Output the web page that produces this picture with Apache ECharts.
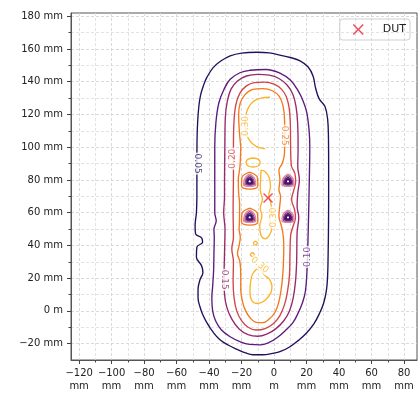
<!DOCTYPE html>
<html><head><meta charset="utf-8">
<script src="https://cdn.jsdelivr.net/npm/echarts@6/dist/echarts.min.js"></script>
<style>html,body{margin:0;padding:0;background:#fff}#c{width:420px;height:396px}</style>
</head><body><div id="c"></div>
<script>
// ---- tick values (mm) ----
const xTicks = [-120,-100,-80,-60,-40,-20,0,20,40,60,80];
const yTicks = [-20,0,20,40,60,80,100,120,140,160,180];

// ---- contour levels ----
const levels = ['0.05','0.10','0.15','0.20','0.25','0.30'];

// ---- contour polylines (mm) ----
const contour005 = [
  [[-47.5,70],[-47.5,90],[-47.4,105],[-47,116],[-46.3,125],[-45.2,132],[-43.5,137.5],[-41.3,142.8],[-37.6,148.5],[-33,152.5],[-27,155.8],[-20,157.5],[-10.5,158],[-3,157.6],[3.6,156.3],[10,154.8],[16,152.8],[21,149],[24,143.5],[25.6,136],[27.8,129.5],[31.3,125],[33,117],[33.5,105],[33.6,90],[33.6,70],[33.5,50],[33.3,35],[33,22],[32.3,13],[30.6,5],[28,-1.5],[24.5,-8],[20,-13.5],[15,-18],[9.8,-21.9],[4,-24.8],[-1,-26],[-7,-26.8],[-13,-26.8],[-18,-25.5],[-22.8,-23.5],[-28,-21],[-33.3,-17.6],[-37.5,-13],[-41.3,-7.3],[-44,-2],[-45.6,2.5],[-46.8,8],[-46.8,13],[-45.6,19],[-43.8,23.5],[-44.6,27.5],[-47.8,33],[-47.5,39],[-44,42],[-44.5,44.5],[-48.3,47],[-48.6,52],[-47.8,60],[-47.5,70]]
];
const contour010 = [
  [[-36.5,80],[-36.5,100],[-35.8,115],[-34,127],[-31,135],[-27,141.5],[-21,145.5],[-14.8,147],[-5,147.5],[3.6,145.3],[10,141],[14.5,135],[18,128],[20.2,121],[21.6,110],[22,100],[21.7,80],[21.3,60],[20.8,40],[20.3,25],[19.3,12],[17.5,5],[14.5,-2],[11.5,-7.3],[7,-12],[2,-16.3],[-3,-19.3],[-8.5,-20.8],[-15,-20.5],[-21,-18.8],[-27,-15.8],[-32.5,-11.5],[-36,-6],[-37.8,0],[-38.3,8],[-37.8,15],[-37.2,25],[-37,35],[-36.8,45],[-37,50],[-35.6,55],[-36.5,60],[-36.5,80]]
];
const contour015 = [
  [[-30.5,80],[-30.3,100],[-30,118],[-28.8,128],[-26.5,135.5],[-22.5,140.5],[-17,143.5],[-10,144.5],[-3,144],[3,142],[8,138],[11.5,132.5],[13.5,125],[14.5,115],[14.8,100],[14.6,88],[15.6,80],[14.6,72],[14.2,64],[15.2,57],[14.2,48],[13.9,30],[13.2,18],[11.8,8],[9.5,0],[6,-6],[1,-11],[-4.5,-14.2],[-10,-15.5],[-16,-14.5],[-21.5,-11],[-26,-5],[-29,2],[-30.5,10],[-30.8,20],[-30.5,35],[-30.2,50],[-31,60],[-30.5,70],[-30.5,80]]
];
const contour020 = [
  [[-25,80],[-25,100],[-24.7,115],[-23.5,126],[-21,133],[-17,137.5],[-12,139.5],[-6,139.8],[0,138.5],[4.5,135.5],[7.5,131],[9.3,124],[10,115],[10.2,100],[10.6,89],[12.8,84],[13.3,79],[12.2,74],[10.8,68],[12.6,62],[13.2,57],[11.8,52],[10.2,46],[9.8,35],[9.5,22],[8.3,12],[6.5,4],[3.5,-3],[-0.5,-7.8],[-5.5,-10.8],[-11,-11.7],[-16,-10],[-20,-6],[-23,0],[-24.6,8],[-25.2,18],[-25,30],[-26,38],[-25,45],[-25.2,60],[-25,80]]
];
const contour025 = [
  [[-20.5,100],[-21.5,112],[-21.8,120],[-20.8,127],[-18,132],[-13,135.3],[-7,135.8],[-1,134.5],[3.2,131],[5.6,125],[6.5,116],[6.6,106],[6.4,96],[5,90],[3,86],[3.6,80],[3,74],[4,70],[3.5,64],[3,58],[4.5,52],[5.5,47],[6,40],[5.8,30],[5.2,20],[4.2,12],[2.8,5],[0.5,-1],[-3,-5],[-7,-7.2],[-11,-7],[-14.5,-4.5],[-17.5,0],[-19.5,6],[-20.5,13],[-20.5,22],[-21,30],[-22.5,35],[-21.5,40],[-20.8,45],[-21.5,50],[-21.3,55],[-21.2,65],[-21.8,72],[-22,80],[-21,88],[-20.5,100]],
  [[-15,84.8],[-10.2,81.4],[-10,76.4],[-15,74.4],[-20,76.4],[-19.8,81.4],[-15,84.8]],
  [[-15,62.8],[-10.2,59.4],[-10,54.4],[-15,52.4],[-20,54.4],[-19.8,59.4],[-15,62.8]]
];
const contour030 = [
  [[-2.5,130.5],[-8,130],[-12,128.5],[-15,125.5],[-17,121],[-17.8,115],[-17.2,109],[-15,104],[-11,100.5],[-5.5,99]],
  [[-12.9,93.4],[-9.6,92.6],[-8.6,90.7],[-9.6,88.7],[-12.9,87.9],[-16.2,88.7],[-17.2,90.7],[-16.2,92.6],[-12.9,93.4]],
  [[-8,86],[-5.5,85],[-3,81.5],[-2.2,76],[-3.2,71],[-2,66],[-1.5,61],[-2.5,55],[-1.5,50],[-3,46],[-5.5,44],[-8,46],[-8.8,52],[-7.5,58],[-8.5,63],[-7.2,68],[-8.5,74],[-8.3,80],[-8,86]],
  [[-11.5,42.7],[-10.3,41.5],[-11.5,40.3],[-12.7,41.5],[-11.5,42.7]],
  [[-13.3,35.8],[-12,34.5],[-13.3,33.2],[-14.6,34.5],[-13.3,35.8]],
  [[-8.6,27],[-13,23],[-14.5,17],[-14.8,11],[-13.5,6],[-10,4.5],[-5.5,6.5],[-2,11],[-1.3,15],[-3,19.5],[-6,22],[-8.6,27]]
];
// four low-field spots (rings of levels 0.05 .. 0.20)
const spot005 = [
  [[-15,80.7],[-13.7,79.45],[-13.6,78.2],[-15,77.9],[-16.4,78.2],[-16.3,79.45],[-15,80.7]],
  [[8.6,80.7],[9.9,79.45],[10,78.2],[8.6,77.9],[7.2,78.2],[7.3,79.45],[8.6,80.7]],
  [[-15,58.7],[-13.7,57.45],[-13.6,56.2],[-15,55.9],[-16.4,56.2],[-16.3,57.45],[-15,58.7]],
  [[8.6,58.7],[9.9,57.45],[10,56.2],[8.6,55.9],[7.2,56.2],[7.3,57.45],[8.6,58.7]]
];
const spot010 = [
  [[-15,81.6],[-13,79.7],[-12.8,77.7],[-15,77.3],[-17.2,77.7],[-17,79.7],[-15,81.6]],
  [[8.6,81.6],[10.6,79.7],[10.8,77.7],[8.6,77.3],[6.4,77.7],[6.6,79.7],[8.6,81.6]],
  [[-15,59.6],[-13,57.7],[-12.8,55.7],[-15,55.3],[-17.2,55.7],[-17,57.7],[-15,59.6]],
  [[8.6,59.6],[10.6,57.7],[10.8,55.7],[8.6,55.3],[6.4,55.7],[6.6,57.7],[8.6,59.6]]
];
const spot015 = [
  [[-15,82.6],[-12.4,79.9],[-12.1,77.3],[-15,76.7],[-17.9,77.3],[-17.6,79.9],[-15,82.6]],
  [[8.6,82.6],[11.2,79.9],[11.5,77.3],[8.6,76.7],[5.7,77.3],[6,79.9],[8.6,82.6]],
  [[-15,60.6],[-12.4,57.9],[-12.1,55.3],[-15,54.7],[-17.9,55.3],[-17.6,57.9],[-15,60.6]],
  [[8.6,60.6],[11.2,57.9],[11.5,55.3],[8.6,54.7],[5.7,55.3],[6,57.9],[8.6,60.6]]
];
const spot020 = [
  [[-15,83.5],[-11.7,80.2],[-11.3,76.9],[-15,76.1],[-18.7,76.9],[-18.3,80.2],[-15,83.5]],
  [[8.6,83.5],[11.9,80.2],[12.3,76.9],[8.6,76.1],[4.9,76.9],[5.3,80.2],[8.6,83.5]],
  [[-15,61.5],[-11.7,58.2],[-11.3,54.9],[-15,54.1],[-18.7,54.9],[-18.3,58.2],[-15,61.5]],
  [[8.6,61.5],[11.9,58.2],[12.3,54.9],[8.6,54.1],[4.9,54.9],[5.3,58.2],[8.6,61.5]]
];

// ---- contour labels: [x, y, text] ----
const labelPoints = [[-47.4,90,'0.05'],[20.6,33,'0.10'],[-30.6,19,'0.15'],[-25.2,93,'0.20'],[6.5,107,'0.25'],[-17.6,113,'0.30'],[-0.5,57,'0.30'],[-8.8,28,'0.30']];
const labelRotations = [-90,90,-90,90,-90,90,90,-40];
const labelLevelIndex = [0,1,2,3,4,5,5,5];

// ---- DUT marker ----
const dutPoint = [[-3.7,69]];

// ---- styles ----
const levelColors = ['#24105a','#5c1a7c','#962a6a','#cf4548','#f27a1c','#f9b52c'];
const spotColors = ['#3a1466','#5c1a7c','#9a4a8a','#dc86a8'];
const spotWidths = [2.4,1.4,1.4,1.4];
const FONT = 'DejaVu Sans';

const contourSets = [contour005, contour010, contour015, contour020, contour025, contour030];
const spotSets = [spot005, spot010, spot015, spot020];

const series = [];
contourSets.forEach((set, li) => {
  set.forEach(poly => series.push({
    type:'line', data: poly, smooth: 0.4, symbol:'none', silent:true, animation:false,
    lineStyle:{color: levelColors[li], width:1.35}, z: 3
  }));
});
spotSets.forEach((set, li) => {
  set.forEach(poly => series.push({
    type:'line', data: poly, smooth: 0.5, symbol:'none', silent:true, animation:false,
    lineStyle:{color: spotColors[li], width: spotWidths[li]}, z: 4
  }));
});
series.push({
  type:'scatter', silent:true, animation:false, symbolSize:0, z:6,
  itemStyle:{color:'transparent'},
  data: labelPoints.map((p,i) => ({
    value:[p[0],p[1]],
    label:{show:true, position:'inside', formatter:p[2], rotate: labelRotations[i],
      color: levelColors[labelLevelIndex[i]], fontSize:9, fontFamily:FONT,
      backgroundColor:'#fff', padding:[0,1]}
  }))
});
series.push({
  name:'DUT', type:'scatter', data: dutPoint, z:10, animation:false,
  symbol:'path://M0,1L1,0L5,4L9,0L10,1L6,5L10,9L9,10L5,6L1,10L0,9L4,5Z',
  symbolSize:10, itemStyle:{color:'#e8253a'}
});

const fmtY = v => v === 0 ? '0 m' : (v < 0 ? '\u2212' : '') + Math.abs(v) + ' mm';
const fmtX = v => (v < 0 ? '\u2212' : '') + Math.abs(v) + '\n' + (v === 0 ? 'm' : 'mm');

const gridLine = {show:true, lineStyle:{color:'#d0d0d0', width:0.8, type:[3,2]}};
const minorGridLine = {show:true, lineStyle:{color:'#dcdcdc', width:0.8, type:[3,2]}};

const option = {
  backgroundColor:'#fff',
  animation:false,
  grid:{left:71, right:3, top:13, bottom:36, show:true, borderColor:'#555', borderWidth:1, backgroundColor:'#fff'},
  legend:{
    data:['DUT'], right:10, top:19, borderColor:'#cfcfcf', borderWidth:1, borderRadius:3,
    padding:[5,4,5,13], itemWidth:11, itemHeight:11,
    formatter:'    DUT',
    textStyle:{fontSize:11, color:'#222', fontFamily:FONT}
  },
  xAxis:{
    type:'value', min:-125, max:88, splitNumber:10, minInterval:20, maxInterval:20,
    axisLine:{show:true, onZero:false, lineStyle:{color:'#555', width:1}},
    axisTick:{show:true, length:4, customValues:xTicks, lineStyle:{color:'#444'}},
    minorTick:{show:true, splitNumber:2, length:2.5, lineStyle:{color:'#444'}},
    axisLabel:{customValues:xTicks, formatter:fmtX, margin:7, fontSize:10, lineHeight:13, color:'#222', fontFamily:FONT},
    splitLine:gridLine, minorSplitLine:minorGridLine
  },
  yAxis:{
    type:'value', min:-30, max:182, splitNumber:10, minInterval:20, maxInterval:20,
    axisLine:{show:true, onZero:false, lineStyle:{color:'#555', width:1}},
    axisTick:{show:true, length:4, customValues:yTicks, lineStyle:{color:'#444'}},
    minorTick:{show:true, splitNumber:2, length:2.5, lineStyle:{color:'#444'}},
    axisLabel:{customValues:yTicks, formatter:fmtY, margin:8, fontSize:10, color:'#222', fontFamily:FONT},
    splitLine:gridLine, minorSplitLine:minorGridLine
  },
  series: series
};
const chart = echarts.init(document.getElementById('c'), null, {renderer:'canvas'});
chart.setOption(option);
</script></body></html>
